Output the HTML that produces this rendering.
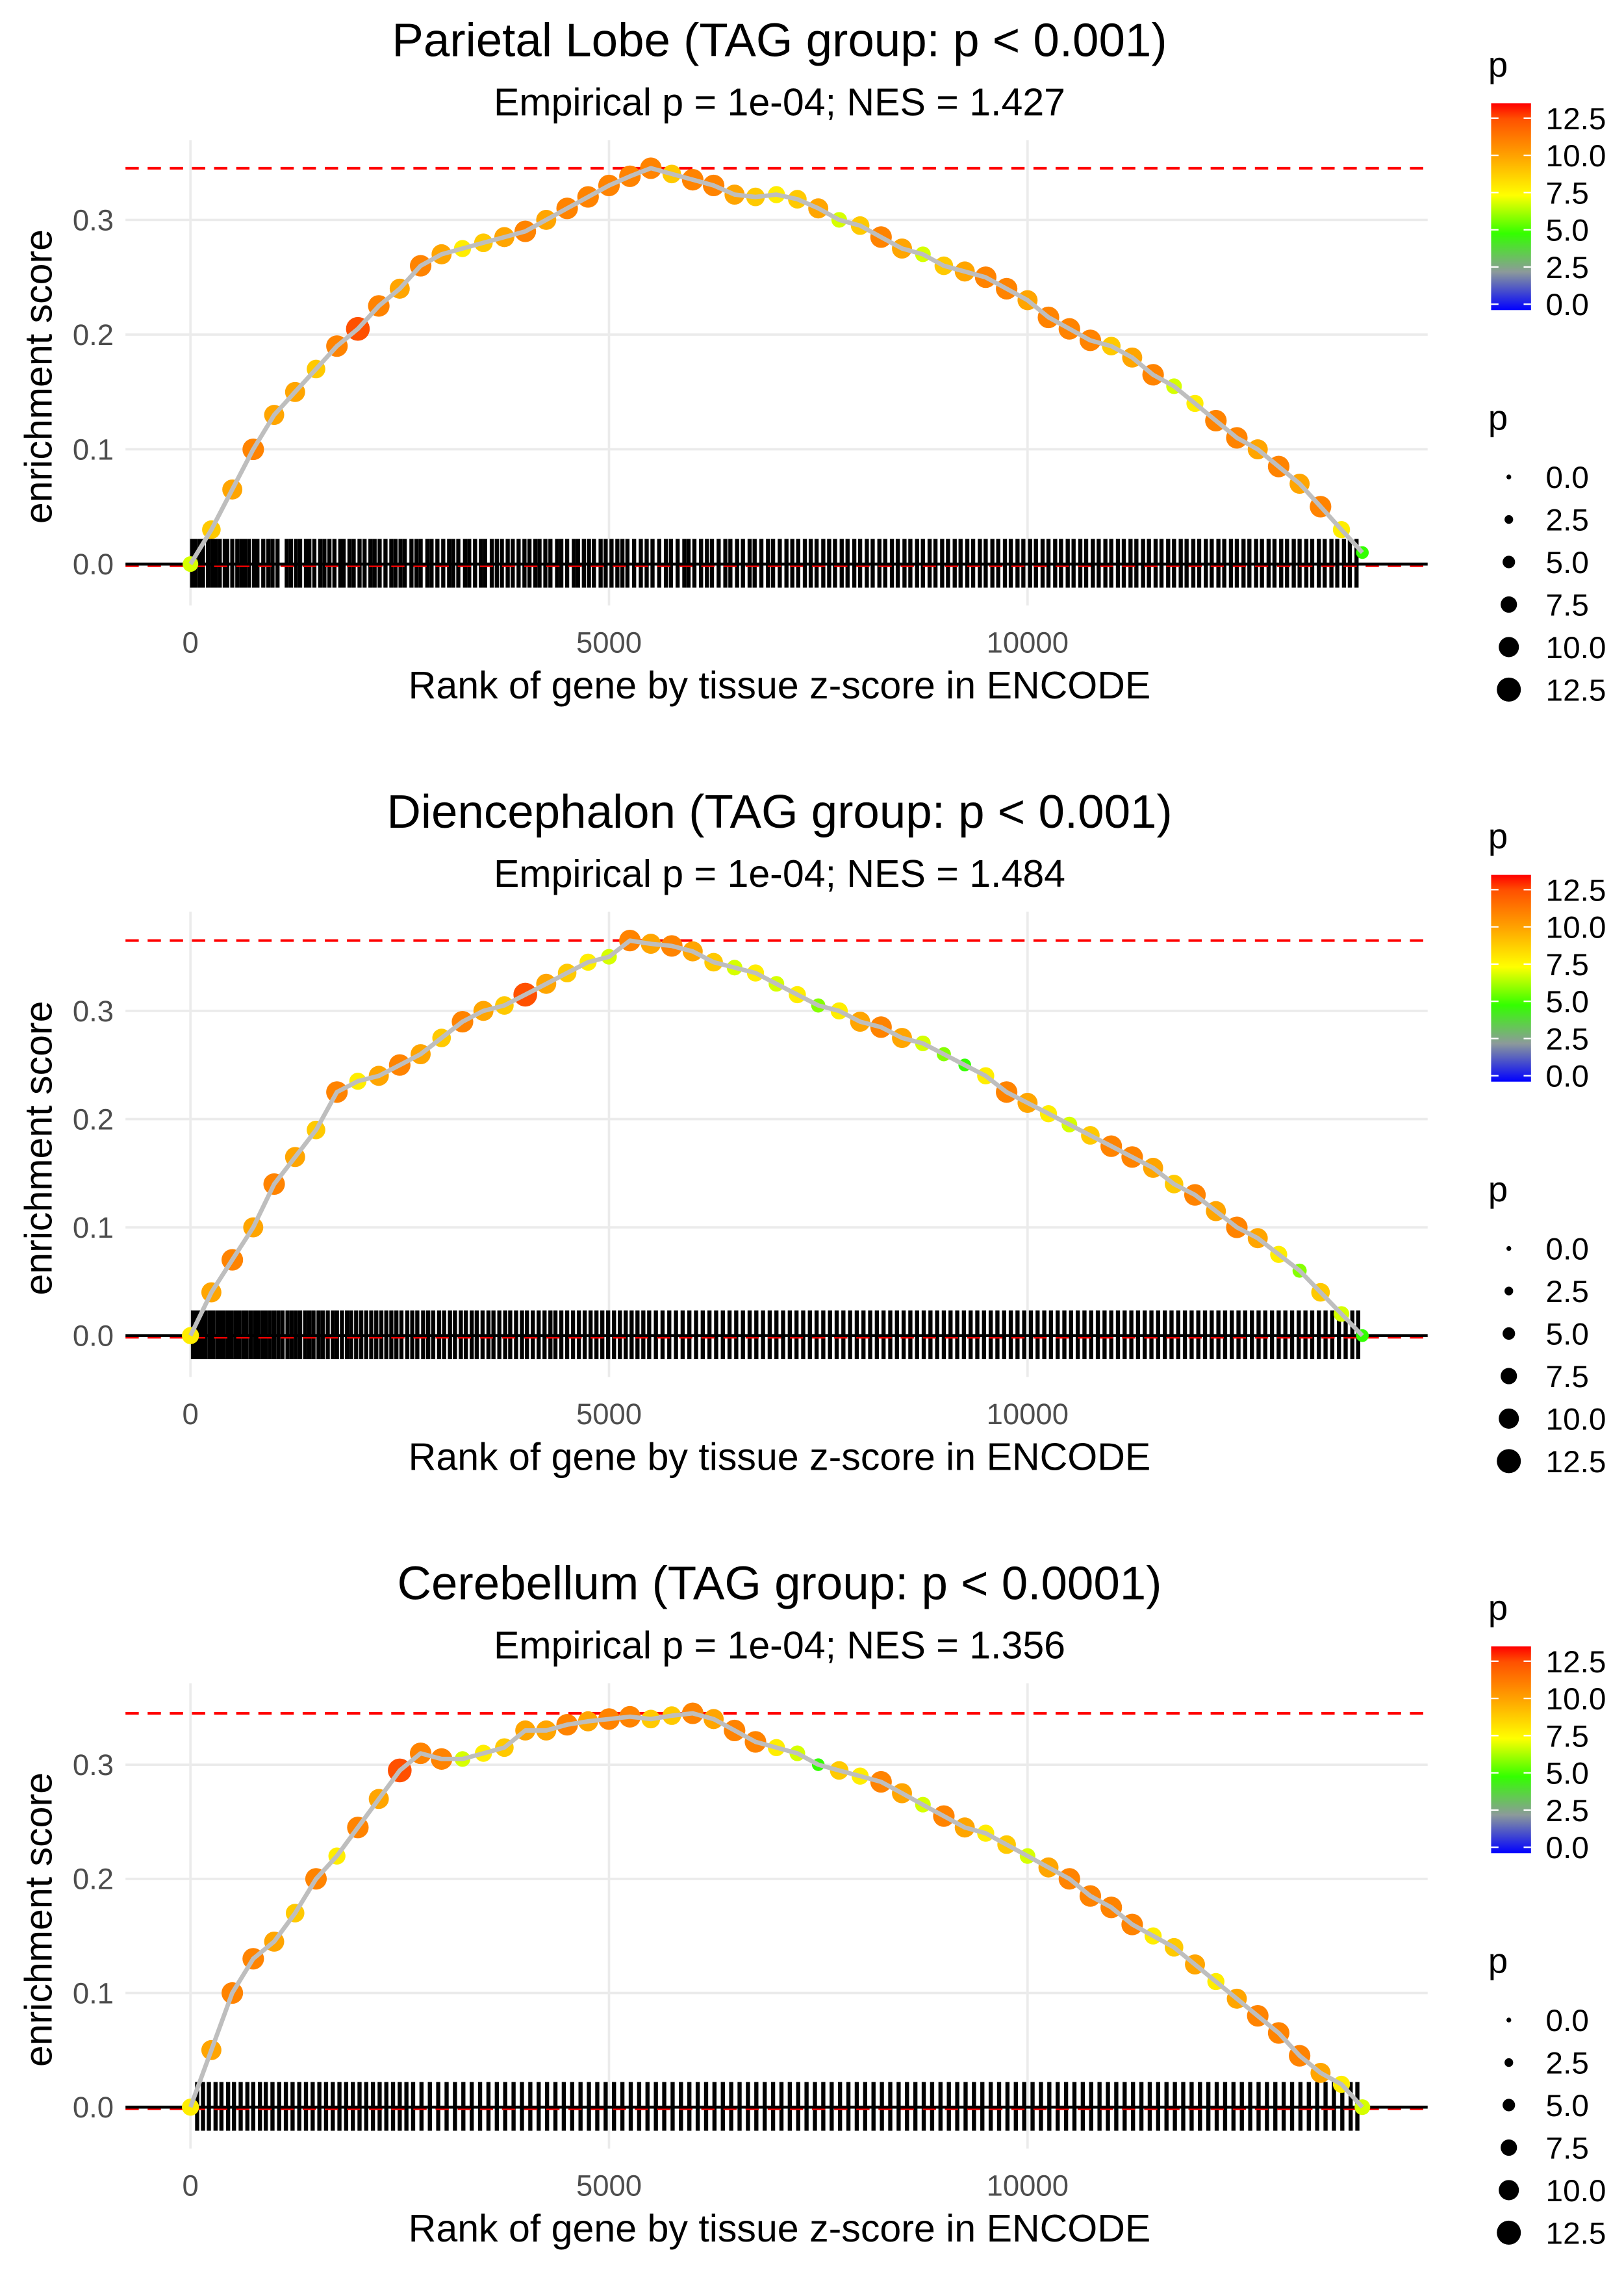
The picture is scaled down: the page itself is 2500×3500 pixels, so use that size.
<!DOCTYPE html>
<html><head><meta charset="utf-8"><title>Enrichment plots</title>
<style>
html,body{margin:0;padding:0;background:#fff;}
svg{display:block;font-family:"Liberation Sans",Arial,sans-serif;}
</style></head>
<body>
<svg id="chart" width="2500" height="3500" viewBox="0 0 1100 1540" xmlns="http://www.w3.org/2000/svg">
<defs>
<linearGradient id="pgrad" x1="0" y1="1" x2="0" y2="0">
<stop offset="0" stop-color="#0000ff"/>
<stop offset="0.185" stop-color="#8c9a9a"/>
<stop offset="0.37" stop-color="#33ff00"/>
<stop offset="0.555" stop-color="#ffff00"/>
<stop offset="0.74" stop-color="#ffa500"/>
<stop offset="0.926" stop-color="#ff5000"/>
<stop offset="1" stop-color="#ff0000"/>
</linearGradient>
</defs>
</svg>
<script>
const titles = ["Parietal Lobe (TAG group: p < 0.001)","Diencephalon (TAG group: p < 0.001)","Cerebellum (TAG group: p < 0.0001)"];
const subtitles = ["Empirical p = 1e-04; NES = 1.427","Empirical p = 1e-04; NES = 1.484","Empirical p = 1e-04; NES = 1.356"];
const xTicks = [0,5000,10000];
const xTickLabels = ["0","5000","10000"];
const yTicks = [0,0.1,0.2,0.3];
const yTickLabels = ["0.0","0.1","0.2","0.3"];
const legendVals = [0,2.5,5,7.5,10,12.5];
const legendLabels = ["0.0","2.5","5.0","7.5","10.0","12.5"];
const ranks = [0,250,500,750,1000,1250,1500,1750,2000,2250,2500,2750,3000,3250,3500,3750,4000,4250,4500,4750,5000,5250,5500,5750,6000,6250,6500,6750,7000,7250,7500,7750,8000,8250,8500,8750,9000,9250,9500,9750,10000,10250,10500,10750,11000,11250,11500,11750,12000,12250,12500,12750,13000,13250,13500,13750,14000];
const es1 = [0,0.03,0.065,0.1,0.13,0.15,0.17,0.19,0.205,0.225,0.24,0.26,0.27,0.275,0.28,0.285,0.29,0.3,0.31,0.32,0.33,0.338,0.345,0.34,0.335,0.33,0.322,0.32,0.322,0.318,0.31,0.3,0.295,0.285,0.275,0.27,0.26,0.255,0.25,0.24,0.23,0.215,0.205,0.195,0.19,0.18,0.165,0.155,0.14,0.125,0.11,0.1,0.085,0.07,0.05,0.03,0.01];
const es2 = [0,0.04,0.07,0.1,0.14,0.165,0.19,0.225,0.235,0.24,0.25,0.26,0.275,0.29,0.3,0.305,0.315,0.325,0.335,0.345,0.35,0.365,0.362,0.36,0.355,0.345,0.34,0.335,0.325,0.315,0.305,0.3,0.29,0.285,0.275,0.27,0.26,0.25,0.24,0.225,0.215,0.205,0.195,0.185,0.175,0.165,0.155,0.14,0.13,0.115,0.1,0.09,0.075,0.06,0.04,0.02,0];
const es3 = [0,0.05,0.1,0.13,0.145,0.17,0.2,0.22,0.245,0.27,0.295,0.31,0.305,0.305,0.31,0.315,0.33,0.33,0.335,0.338,0.34,0.342,0.34,0.343,0.345,0.34,0.33,0.32,0.315,0.31,0.3,0.295,0.29,0.285,0.275,0.265,0.255,0.245,0.24,0.23,0.22,0.21,0.2,0.185,0.175,0.16,0.15,0.14,0.125,0.11,0.095,0.08,0.065,0.045,0.03,0.02,0];
const p1 = [7,9,10,11,10,10,9,11,12.5,11,10,11,10,8,9,10,11,10,11,11,11,11,11,9,11,11,10,9,8,9,10,7,9,11,10,7,9,10,11,11,10,11,11,11,9,10,11,7,8,11,11,10,11,10,11,8,5];
const p2 = [8,10,11,10,11,10,9,11,8,10,11,10,9,11,10,9,12.5,10,9,8,7,11,10,11,10,9,7,8,7,8,6,8,10,11,10,7,6,5,8,11,10,8,7,9,11,11,10,9,11,10,11,10,8,6,9,7,5];
const p3 = [8,10,11,11,10,9,11,8,11,10,12.5,11,11,7,8,9,10,10,11,10,11,11,9,9,11,10,11,11,8,7,5,9,8,11,10,7,11,10,8,9,7,10,11,11,11,11,8,9,10,8,10,11,11,11,10,8,7];
const hits1 = [20,60,110,150,210,260,300,350,410,440,500,560,610,650,700,760,800,870,930,980,1040,1150,1200,1260,1310,1380,1420,1480,1550,1600,1660,1720,1790,1830,1900,1950,2020,2080,2150,2200,2260,2330,2400,2450,2510,2560,2640,2700,2750,2830,2880,2950,3020,3090,3140,3200,3280,3330,3400,3470,3520,3600,3660,3720,3790,3850,3920,3990,4050,4120,4170,4240,4300,4380,4430,4500,4580,4630,4700,4760,4820,4900,4960,5030,5100,5160,5220,5300,5380,5450,5520,5600,5680,5740,5820,5900,5950,6020,6100,6170,6230,6310,6390,6450,6530,6600,6680,6740,6820,6900,6960,7040,7120,7190,7260,7340,7410,7480,7560,7630,7700,7780,7850,7930,8000,8080,8150,8230,8300,8380,8450,8530,8600,8680,8750,8830,8900,8980,9050,9130,9200,9280,9350,9430,9500,9580,9650,9730,9800,9880,9950,10030,10100,10180,10250,10330,10400,10480,10550,10630,10700,10780,10850,10930,11000,11080,11150,11230,11300,11380,11450,11530,11600,11680,11750,11830,11900,11980,12050,12130,12200,12280,12350,12430,12500,12580,12650,12730,12800,12880,12950,13030,13100,13180,13250,13330,13400,13480,13550,13630,13700,13780,13850,13930];
const hits2 = [30,70,100,140,180,230,270,320,360,400,450,490,540,580,630,670,720,770,810,860,900,950,1000,1050,1100,1160,1210,1260,1310,1370,1420,1470,1530,1580,1640,1700,1750,1810,1870,1920,1980,2040,2100,2160,2220,2280,2340,2400,2460,2520,2590,2650,2710,2780,2840,2900,2970,3030,3100,3160,3230,3290,3360,3420,3490,3560,3620,3690,3760,3820,3890,3960,4020,4090,4160,4230,4300,4360,4430,4500,4570,4640,4710,4780,4850,4920,4990,5060,5130,5200,5270,5340,5410,5480,5560,5640,5720,5800,5880,5960,6040,6120,6200,6280,6360,6440,6520,6600,6680,6760,6840,6920,7000,7080,7160,7240,7320,7400,7480,7560,7640,7720,7800,7880,7960,8040,8120,8200,8280,8360,8440,8520,8600,8680,8760,8840,8920,9000,9080,9160,9240,9320,9400,9480,9560,9640,9720,9800,9880,9960,10040,10120,10200,10280,10360,10440,10520,10600,10680,10760,10840,10920,11000,11080,11160,11240,11320,11400,11480,11560,11640,11720,11800,11880,11960,12040,12120,12200,12280,12360,12440,12520,12600,12680,12760,12840,12920,13000,13080,13160,13240,13320,13400,13480,13560,13640,13720,13800,13880,13950];
const hits3 = [80,150,220,300,370,450,520,600,680,750,830,900,980,1060,1140,1220,1300,1380,1460,1540,1620,1700,1780,1860,1940,2020,2100,2180,2260,2340,2420,2500,2580,2660,2760,2860,2960,3060,3160,3260,3360,3460,3560,3660,3760,3860,3960,4060,4160,4260,4360,4460,4560,4660,4760,4860,4960,5060,5160,5260,5360,5460,5560,5660,5760,5860,5960,6060,6160,6260,6360,6460,6560,6660,6760,6860,6960,7060,7160,7260,7360,7460,7560,7660,7760,7860,7960,8060,8160,8260,8360,8460,8560,8660,8760,8860,8960,9060,9160,9260,9360,9460,9560,9660,9760,9860,9960,10060,10160,10260,10360,10460,10560,10660,10760,10860,10960,11060,11160,11260,11360,11460,11560,11660,11760,11860,11960,12060,12160,12260,12360,12460,12560,12660,12760,12860,12960,13060,13160,13260,13360,13460,13560,13660,13760,13860,13940];

const NS = "http://www.w3.org/2000/svg";
const svg = document.getElementById("chart");
function mk(tag, attrs, parent){ const e=document.createElementNS(NS,tag); for(const k in attrs) e.setAttribute(k,attrs[k]); (parent||svg).appendChild(e); return e; }
function txt(s, attrs, parent){ const e=mk("text",attrs,parent); e.textContent=s; return e; }
const stops=[[0,[0,0,255]],[2.5,[140,154,154]],[5,[51,255,0]],[7.5,[255,255,0]],[10,[255,165,0]],[12.5,[255,80,0]],[13.5,[255,0,0]]];
function pColor(p){ for(let i=1;i<stops.length;i++){ if(p<=stops[i][0]){ const a=stops[i-1],b=stops[i],t=(p-a[0])/(b[0]-a[0]); const c=a[1].map((v,j)=>Math.round(v+(b[1][j]-v)*t)); return "rgb("+c.join(",")+")"; } } return "rgb(255,0,0)"; }
function pRadius(p){ return 1.8+0.5*p; }
function legRadius(p){ return 1.8+0.58*p; }

const panels=[{es:es1,p:p1,hits:hits1,scale:777},{es:es2,p:p2,hits:hits2,scale:733},{es:es3,p:p3,hits:hits3,scale:773}];
const X0=129, XPER=283.5/5000, PL=85, PR=967;
function xPos(r){ return X0+r*XPER; }

panels.forEach((pn,i)=>{
  const off=i*522.5;
  const y0=382+off;
  const yPos=v=>y0-v*pn.scale;
  const g=mk("g",{});
  
  
  const t=txt(titles[i],{x:528,y:38+off,"text-anchor":"middle","font-size":"32",fill:"#000"},g);
  
  
  const st=txt(subtitles[i],{x:528,y:78+off,"text-anchor":"middle","font-size":"26",fill:"#000"},g);
  
  
  yTicks.forEach((v,k)=>{
    const l=mk("line",{x1:PL,x2:PR,y1:yPos(v),y2:yPos(v),stroke:"#ebebeb","stroke-width":1.6},g);
    
    
    const tl=txt(yTickLabels[k],{x:77,y:yPos(v)+7,"text-anchor":"end","font-size":"20",fill:"#4d4d4d"},g);
    
    
  });
  xTicks.forEach((v,k)=>{
    const l=mk("line",{x1:xPos(v),x2:xPos(v),y1:95+off,y2:410+off,stroke:"#ebebeb","stroke-width":1.6},g);
    
    
    const tl=txt(xTickLabels[k],{x:xPos(v),y:442+off,"text-anchor":"middle","font-size":"20",fill:"#4d4d4d"},g);
    
    
  });
  const yt=txt("enrichment score",{x:0,y:0,"text-anchor":"middle","font-size":"26",fill:"#000",transform:"translate(35,"+(255+off)+") rotate(-90)"},g);
  
  
  const xt=txt("Rank of gene by tissue z-score in ENCODE",{x:528,y:473+off,"text-anchor":"middle","font-size":"26",fill:"#000"},g);
  
  
  const mx=Math.max(...pn.es);
  const dl=mk("line",{x1:PL,x2:PR,y1:yPos(mx),y2:yPos(mx),stroke:"#ff0000","stroke-width":1.8,"stroke-dasharray":"9,6"},g);
  
  
  const rug=mk("g",{},g);
  
  
  pn.hits.forEach(h=>{
    const l=mk("line",{x1:xPos(h),x2:xPos(h),y1:y0-17,y2:y0+16,stroke:"#000","stroke-width":2.8},rug);
    
    
  });
  const zl=mk("line",{x1:PL,x2:PR,y1:y0,y2:y0,stroke:"#000","stroke-width":2},g);
  
  
  const zd=mk("line",{x1:PL,x2:PR,y1:y0+1.5,y2:y0+1.5,stroke:"#ff0000","stroke-width":1,"stroke-dasharray":"9,6"},g);
  
  
  const n=Math.min(ranks.length,pn.es.length,pn.p.length);
  for(let k=0;k<n;k++){
    const c=mk("circle",{cx:xPos(ranks[k]),cy:yPos(pn.es[k]),r:pRadius(pn.p[k]),fill:pColor(pn.p[k])},g);
    
    
  }
  let d="";
  for(let k=0;k<n;k++) d+=(k?"L":"M")+xPos(ranks[k]).toFixed(1)+","+yPos(pn.es[k]).toFixed(1);
  const path=mk("path",{d:d,fill:"none",stroke:"#bebebe","stroke-width":3,"stroke-linejoin":"round"},g);
  
  
  const lt=txt("p",{x:1008,y:52+off,"font-size":"24",fill:"#000"},g);
  
  
  const pxPerP=10.08, barBottom=206+off;
  const bar=mk("rect",{x:1010,y:70+off,width:27,height:140,fill:"url(#pgrad)"},g);
  
  
  legendVals.forEach((v,k)=>{
    const yy=barBottom-v*pxPerP;
    mk("line",{x1:1010,x2:1015,y1:yy,y2:yy,stroke:"#fff","stroke-width":1},g);
    mk("line",{x1:1032,x2:1037,y1:yy,y2:yy,stroke:"#fff","stroke-width":1},g);
    const cl=txt(legendLabels[k],{x:1047,y:yy+7.5,"font-size":"21",fill:"#000"},g);
    
    
  });
  const st2=txt("p",{x:1008,y:291+off,"font-size":"24",fill:"#000"},g);
  
  
  legendVals.forEach((v,k)=>{
    const yy=323+off+k*28.8;
    const dc=mk("circle",{cx:1022,cy:yy,r:legRadius(v)*0.9,fill:"#000"},g);
    
    
    const sl=txt(legendLabels[k],{x:1047,y:yy+7.5,"font-size":"21",fill:"#000"},g);
    
    
  });
});
</script>
</body></html>
